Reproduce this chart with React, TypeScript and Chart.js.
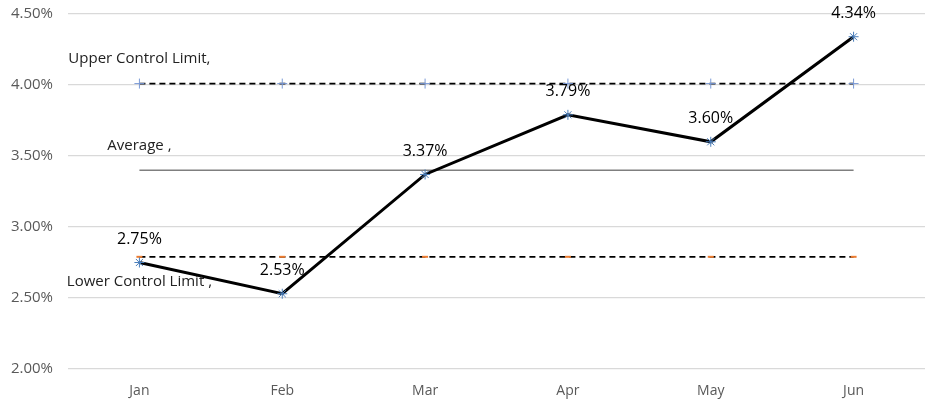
import React, { useEffect, useRef } from "react";
import { Chart, registerables } from "chart.js";

Chart.register(...registerables);

const months = ["Jan", "Feb", "Mar", "Apr", "May", "Jun"];
const rates = [2.75, 2.53, 3.37, 3.79, 3.6, 4.34];
const upperLimit = [4.01, 4.01, 4.01, 4.01, 4.01, 4.01];
const average = [3.4, 3.4, 3.4, 3.4, 3.4, 3.4];
const lowerLimit = [2.79, 2.79, 2.79, 2.79, 2.79, 2.79];
const seriesNames = ["Upper Control Limit,", "Average ,", "Lower Control Limit ,"];
const yTicks = [2.0, 2.5, 3.0, 3.5, 4.0, 4.5];

const FONT = "'Open Sans', 'Liberation Sans', sans-serif";

const labelPlugin = {
  id: "labels",
  afterDatasetsDraw(chart: any) {
    const ctx = chart.ctx;
    ctx.save();
    ctx.textAlign = "center";
    ctx.textBaseline = "middle";
    const meta = chart.getDatasetMeta(0);
    ctx.font = `16px ${FONT}`;
    ctx.fillStyle = "#000";
    meta.data.forEach((pt: any, i: number) => {
      ctx.fillText(rates[i].toFixed(2) + "%", pt.x, pt.y - 23);
    });
    ctx.font = `15px ${FONT}`;
    ctx.fillStyle = "#222";
    const offs = [-25, -24, 25];
    [1, 2, 3].forEach((di, k) => {
      const p = chart.getDatasetMeta(di).data[0];
      ctx.fillText(seriesNames[k], p.x, p.y + offs[k]);
    });
    ctx.restore();
  },
};

export default function App() {
  const ref = useRef<HTMLCanvasElement>(null);
  useEffect(() => {
    document.body.style.margin = "0";
    const chart = new Chart(ref.current!, {
      type: "line",
      data: {
        labels: months,
        datasets: [
          {
            label: "Rate",
            data: rates,
            borderColor: "#000",
            borderWidth: 3,
            pointStyle: "star",
            pointRadius: 5,
            pointBorderColor: "#4a7ebb",
            pointBorderWidth: 1,
            tension: 0,
          },
          {
            label: seriesNames[0],
            data: upperLimit,
            borderColor: "#000",
            borderWidth: 1.8,
            borderDash: [6, 4],
            pointStyle: "cross",
            pointRadius: 5,
            pointBorderColor: "#7a9ad6",
            pointBorderWidth: 1,
          },
          {
            label: seriesNames[1],
            data: average,
            borderColor: "#7f7f7f",
            borderWidth: 1.5,
            pointRadius: 0,
          },
          {
            label: seriesNames[2],
            data: lowerLimit,
            borderColor: "#000",
            borderWidth: 1.8,
            borderDash: [6, 4],
            pointStyle: "line",
            pointRadius: 3,
            pointBorderColor: "#ed7d31",
            pointBorderWidth: 2,
          },
        ],
      },
      options: {
        animation: false,
        responsive: false,
        layout: { padding: { top: 14, right: 10, bottom: 0, left: 0 } },
        plugins: { legend: { display: false }, tooltip: { enabled: false } },
        scales: {
          x: {
            offset: true,
            grid: { display: false, drawTicks: false },
            border: { display: false },
            ticks: { color: "#595959", font: { family: FONT, size: 14 }, padding: 14 },
            afterFit(axis: any) {
              axis.height = 40;
              axis.paddingLeft = 0;
              axis.paddingRight = 0;
            },
          },
          y: {
            min: 2,
            max: 4.5,
            afterBuildTicks(axis: any) {
              axis.ticks = yTicks.map((v) => ({ value: v }));
            },
            afterFit(axis: any) {
              axis.width = 68;
              axis.paddingTop = 0;
              axis.paddingBottom = 0;
            },
            grid: { color: "#d9d9d9", lineWidth: 1.2, drawTicks: false },
            border: { display: false },
            ticks: {
              color: "#595959",
              font: { family: FONT, size: 15 },
              padding: 15,
              callback: (v: any) => Number(v).toFixed(2) + "%",
            },
          },
        },
      },
      plugins: [labelPlugin],
    });
    return () => chart.destroy();
  }, []);
  return <canvas ref={ref} width={935} height={409} style={{ display: "block" }} />;
}
